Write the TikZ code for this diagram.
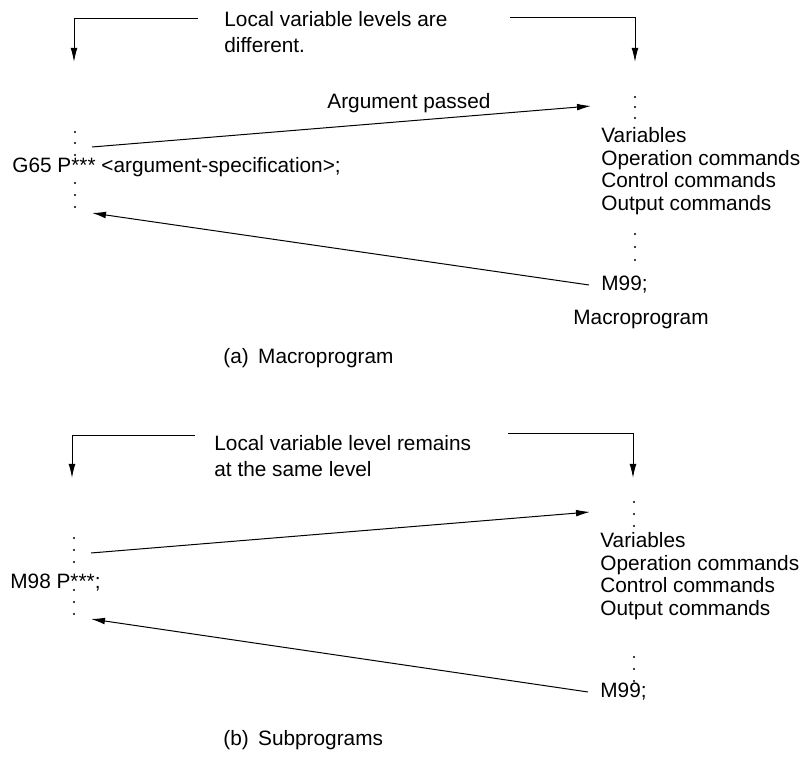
\documentclass[tikz,border=0pt]{standalone}
\usepackage{fontspec}
\setmainfont{Liberation Sans}
\usetikzlibrary{arrows.meta}
\begin{document}
\begin{tikzpicture}[x=0.5pt,y=-0.5pt,
  every node/.style={font=\fontsize{10.4}{11.2}\selectfont,inner sep=0pt,align=left},
  note/.style={font=\fontsize{10.4}{13}\selectfont},
  flow/.style={draw,line width=0.5pt,-{Latex[length=7pt,width=3.4pt]}}]
  \useasboundingbox (0,0) rectangle (811,763);
  % (a) macroprogram
  \node[note,anchor=north west] (levtop) at (224,11.5) {Local variable levels are\\different.};
  \coordinate (ltop) at (74,62);
  \coordinate (rtop) at (635,62);
  \draw[flow] (198,19) -| (ltop);
  \draw[flow] (510,18) -| (rtop);
  \foreach \y in {132,143,155,183,195,207} \fill (75,\y) circle[radius=0.6pt];
  \node[anchor=west] (gcall) at (12,167) {G65 P*** <argument-specification>;};
  \coordinate (gout) at (92,147);
  \coordinate (min) at (591,106);
  \draw[flow] (gout) -- (min);
  \node[anchor=west] (argp) at (327,103) {Argument passed};
  \foreach \y in {97,107,118,234,247,260} \fill (635,\y) circle[radius=0.6pt];
  \node[anchor=north west] (mbody) at (601,127.5) {Variables\\Operation commands\\Control commands\\Output commands};
  \node[anchor=west] (mret) at (601,285) {M99;};
  \coordinate (gback) at (92,213);
  \draw[flow] ([xshift=-6pt]mret.west) -- (gback);
  \node[anchor=west] (mname) at (573,320) {Macroprogram};
  \node[anchor=west] (capa) at (223,358) {(a)\hspace{0.45em}Macroprogram};
  % (b) subprograms
  \node[note,anchor=north west] (levbot) at (214,435.5) {Local variable level remains\\at the same level};
  \coordinate (lbot) at (72,478);
  \coordinate (rbot) at (633,478);
  \draw[flow] (195,436) -| (lbot);
  \draw[flow] (508,434) -| (rbot);
  \foreach \y in {538,550,562,590,602,614} \fill (74,\y) circle[radius=0.6pt];
  \node[anchor=west] (scall) at (10,583) {M98 P***;};
  \coordinate (sout) at (91,553);
  \coordinate (sin) at (590,512);
  \draw[flow] (sout) -- (sin);
  \foreach \y in {502,514,526,657,669,681} \fill (634,\y) circle[radius=0.6pt];
  \node[anchor=north west] (sbody) at (600,532.5) {Variables\\Operation commands\\Control commands\\Output commands};
  \node[anchor=west] (sret) at (600,692) {M99;};
  \coordinate (sback) at (91,619);
  \draw[flow] ([xshift=-6pt]sret.west) -- (sback);
  \node[anchor=west] (capb) at (223,740) {(b)\hspace{0.45em}Subprograms};
\end{tikzpicture}
\end{document}
